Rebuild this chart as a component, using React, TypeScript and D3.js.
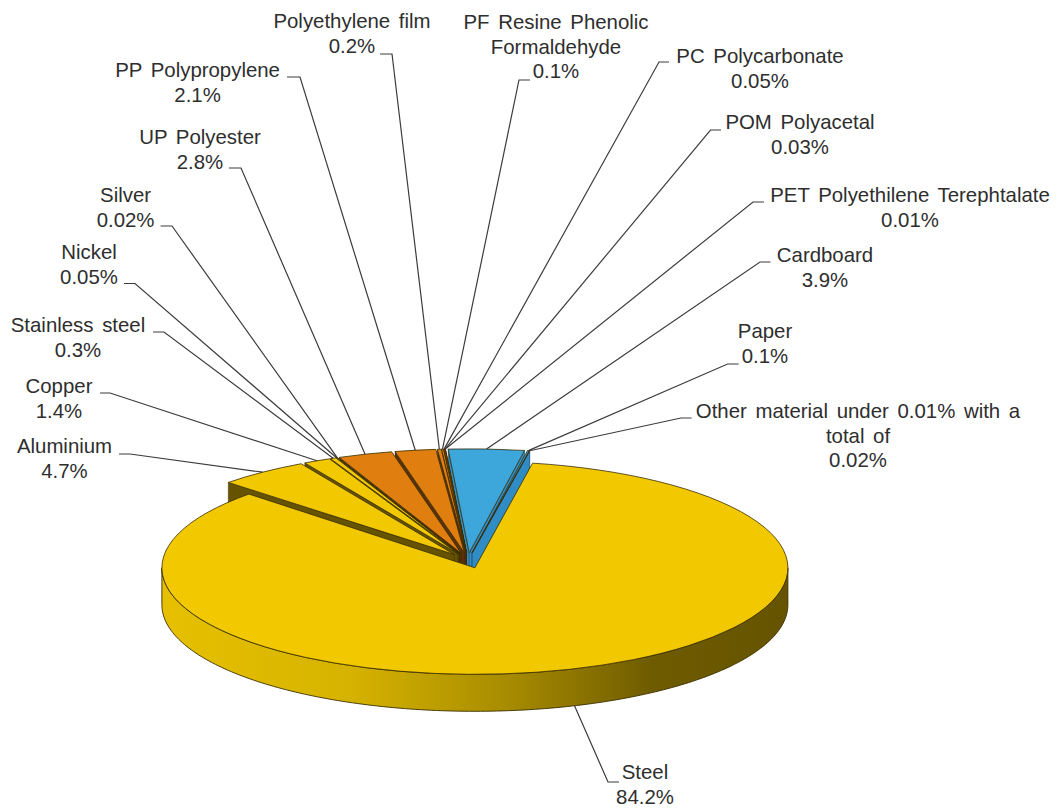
import React from "react";
import * as d3 from "d3";

const materials = ["Aluminium","Copper","Stainless steel","Nickel","Silver","UP Polyester","PP Polypropylene","Polyethylene film","PF Resine Phenolic Formaldehyde","PC Polycarbonate","POM Polyacetal","PET Polyethilene Terephtalate","Cardboard","Paper","Other material under 0.01% with a total of","Steel"];
const shares = [4.7,1.4,0.3,0.05,0.02,2.8,2.1,0.2,0.1,0.05,0.03,0.01,3.9,0.1,0.02,84.2];
const shareLabels = ["4.7%","1.4%","0.3%","0.05%","0.02%","2.8%","2.1%","0.2%","0.1%","0.05%","0.03%","0.01%","3.9%","0.1%","0.02%","84.2%"];
const groups = ["metal","metal","metal","metal","metal","plastic","plastic","plastic","plastic","plastic","plastic","plastic","paper","paper","paper","metal"];

// label layout: wrapped lines, centre x, first baseline y
const labelLines = [["Aluminium"],["Copper"],["Stainless steel"],["Nickel"],["Silver"],["UP Polyester"],["PP Polypropylene"],["Polyethylene film"],["PF Resine Phenolic","Formaldehyde"],["PC Polycarbonate"],["POM Polyacetal"],["PET Polyethilene Terephtalate"],["Cardboard"],["Paper"],["Other material under 0.01% with a","total of"],["Steel"]];
const labelX = [64.5,59,78,89,125.6,200,197.6,352,556,760,800,910,825,765,858,645];
const labelY = [453,393,332,259,202,144,77,28,29,63,129,202,262,338,418,779];
// leader elbows: outer end and bend
const leaderEnd: [number,number][] = [[119,454],[100,393],[153,332],[124,283.5],[160.6,226],[229,168],[287,77],[380,54],[530,80],[669,62],[721,130],[764,202],[770.5,262],[738.6,364],[691.6,418],[619,782]];
const leaderBend: [number,number][] = [[130,454],[110,393],[164,332],[135,283.5],[172,226],[241,168],[300,77],[392,54],[519,80],[659,62],[710.5,130],[753,202],[760,262],[727.6,364],[681,418],[608,782]];

const topColor: Record<string,string> = { metal: "#F2C800", plastic: "#E07F0F", paper: "#3DA6DB" };
const wallColor: Record<string,string> = { metal: "#665300", plastic: "#5a3208", paper: "#2F8CC4" };

const CX = 468, CY = 560.5, RX = 313, RY = 106.5, RY_BACK = 104, DEPTH = 37, EXPLODE = 0.072;
const START = -46.2 * Math.PI / 180;
const STEEL_LEADER_NUDGE = 0.0135;

export default function App() {
  const pie = d3.pie<number>().sort(null).value(d => d).startAngle(START).endAngle(START + 2 * Math.PI);
  const arcs = pie(shares);
  const arcGen = d3.arc<any>().innerRadius(0).outerRadius(RX);
  const lastIndex = shares.length - 1;
  const items = arcs.map((a, i) => {
    const mid = (a.startAngle + a.endAngle) / 2;
    const ry = i === lastIndex ? RY : RY_BACK;
    const c: [number,number] = [CX + EXPLODE * RX * Math.sin(mid), CY - EXPLODE * RY * Math.cos(mid)];
    const rim = (t: number): [number,number] => [c[0] + RX * Math.sin(t), c[1] - ry * Math.cos(t)];
    return { a, i, mid, c, rim, squash: ry / RX };
  });
  const line = d3.line();
  const wallPoly = (p: [number,number], q: [number,number]) =>
    line([p, q, [q[0], q[1] + DEPTH], [p[0], p[1] + DEPTH]])! + "Z";

  const order = items.filter(d => d.i !== lastIndex).sort((p, q) => Math.abs(p.mid) - Math.abs(q.mid));
  const steel = items[lastIndex];

  const front = d3.range(90, 270.5, 1).map(d => d * Math.PI / 180);
  const topEdge = front.map(steel.rim);
  const bottomEdge = front.map(t => { const r = steel.rim(t); return [r[0], r[1] + DEPTH] as [number,number]; }).reverse();
  const sideX = d3.scaleLinear().domain([0, 1]).range([steel.c[0] - RX, steel.c[0] + RX]);

  return (
    <svg width={1058} height={808} style={{ position: "absolute", left: 0, top: 0, background: "#fff" }}>
      <defs>
        <linearGradient id="steelSide" gradientUnits="userSpaceOnUse" x1={sideX(0)} x2={sideX(1)} y1={0} y2={0}>
          <stop offset="0" stopColor="#e6c000" />
          <stop offset="0.3" stopColor="#d6b300" />
          <stop offset="0.55" stopColor="#a88c00" />
          <stop offset="0.78" stopColor="#6f5c00" />
          <stop offset="1" stopColor="#655300" />
        </linearGradient>
      </defs>
      <g>
        {order.map(d => (
          <g key={d.i}>
            {d.a.startAngle < 0 && <path d={wallPoly(d.c, d.rim(d.a.startAngle))} fill={wallColor[groups[d.i]]} stroke="#2a2000" strokeWidth={0.4} />}
            {d.a.endAngle > 0 && <path d={wallPoly(d.c, d.rim(d.a.endAngle))} fill={wallColor[groups[d.i]]} stroke="#123" strokeWidth={0.4} />}
            <path d={arcGen(d.a as any)!} transform={`translate(${d.c[0]},${d.c[1]}) scale(1,${d.squash})`} fill={topColor[groups[d.i]]} stroke="#3a2c00" strokeWidth={0.8} vectorEffect="non-scaling-stroke" />
          </g>
        ))}
        <path d={line([...topEdge, ...bottomEdge])! + "Z"} fill="url(#steelSide)" stroke="#3a2f00" strokeWidth={0.9} />
        <path d={arcGen(steel.a as any)!} transform={`translate(${steel.c[0]},${steel.c[1]}) scale(1,${steel.squash})`} fill={topColor.metal} stroke="#3a2c00" strokeWidth={0.8} vectorEffect="non-scaling-stroke" />
      </g>
      <g fill="none" stroke="#3c3c3c" strokeWidth={1.2}>
        {items.map(d => {
          const isSteel = d.i === lastIndex;
          const r = d.rim(isSteel ? d.mid - STEEL_LEADER_NUDGE : d.mid);
          const anchor: [number,number] = isSteel ? [r[0], r[1] + DEPTH] : r;
          return <path key={d.i} d={line([leaderEnd[d.i], leaderBend[d.i], anchor])!} />;
        })}
      </g>
      <g fontFamily="'Liberation Sans', Arial, sans-serif" fontSize={20.4} fill="#2e2e2e" textAnchor="middle" style={{ wordSpacing: "3px" }}>
        {materials.map((m, i) => (
          <text key={m} x={labelX[i]} y={labelY[i]}>
            {[...labelLines[i], shareLabels[i]].map((t, j) => (
              <tspan key={j} x={labelX[i]} dy={j === 0 ? 0 : 24.6}>{t}</tspan>
            ))}
          </text>
        ))}
      </g>
    </svg>
  );
}
